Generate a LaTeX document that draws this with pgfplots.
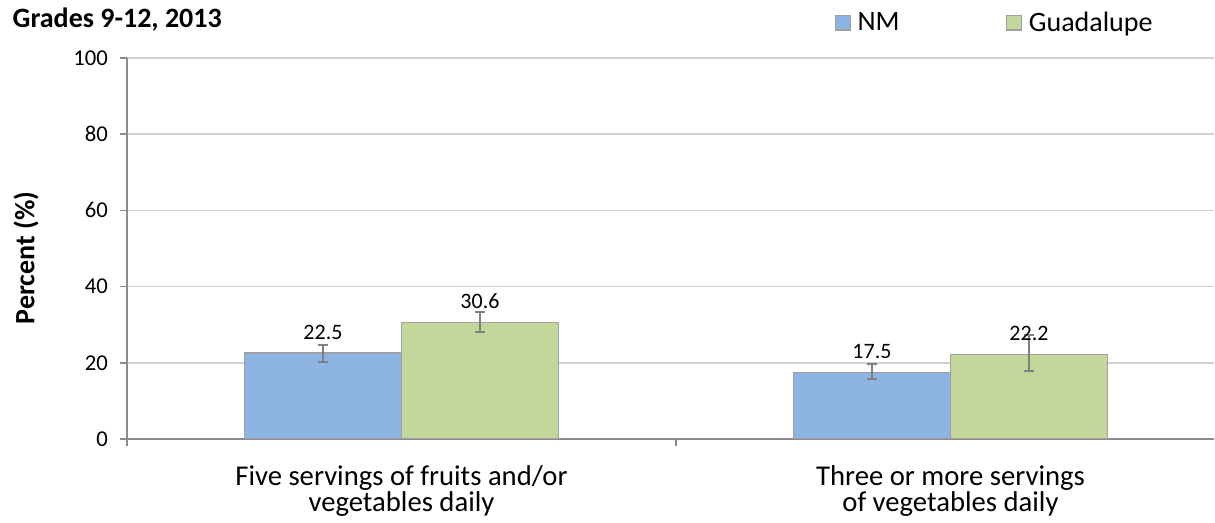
\documentclass[border=0pt]{standalone}
\usepackage{pgfplots}
\pgfplotsset{compat=1.18}
\usepackage{fontspec}
\setmainfont{Carlito}

\definecolor{nmblue}{HTML}{8DB4E2}
\definecolor{guadgreen}{HTML}{C4D79B}
\definecolor{edgegray}{HTML}{A0A0A0}
\definecolor{errgray}{HTML}{808080}
\definecolor{gridgray}{HTML}{D0D0D0}
\definecolor{axisgray}{HTML}{8C8C8C}

\newcommand{\smallsize}{\fontsize{16.5}{19.8}\selectfont}
\newcommand{\ticksize}{\fontsize{17}{20}\selectfont}
\newcommand{\bigsize}{\fontsize{21}{26.5}\selectfont}

\begin{document}
\begin{tikzpicture}
\begin{axis}[
  scale only axis,
  width=815.25pt, height=285.75pt,
  ybar=0pt, bar width=0.286,
  xmin=-0.5, xmax=1.48,
  ymin=0, ymax=100,
  ytick={0,20,...,100},
  xtick={0,1},
  xticklabels={{Five servings of fruits and/or\\vegetables daily},{Three or more servings\\of vegetables daily}},
  axis x line*=bottom, axis y line*=left,
  axis line style={axisgray, line width=1.2pt},
  tick align=outside,
  major tick length=5.25pt,
  tick style={axisgray, line width=1.2pt},
  xtick style={draw=none},
  extra x ticks={-0.5,0.5},
  extra x tick labels={},
  extra x tick style={grid=none, xtick style={draw=axisgray}},
  ymajorgrids,
  grid style={gridgray, line width=1.2pt},
  /pgf/number format/assume math mode=true,
  yticklabel style={font=\ticksize, xshift=-5.5pt},
  xticklabel style={font=\fontsize{21.5}{20}\selectfont, align=center, yshift=-11pt},
  ylabel={Percent (\%)},
  ylabel style={font=\bigsize\bfseries, at={(axis description cs:-0.0929,0.475)}, anchor=center},
  nodes near coords,
  nodes near coords style={font=\smallsize, text=black, anchor=south, yshift=6.5pt,
    /pgf/number format/.cd, fixed, fixed zerofill, precision=1, assume math mode=true},
  legend columns=2,
  legend style={at={(0.651,1.093)}, anchor=west, draw=none, fill=none, font=\bigsize,
    inner sep=0pt, /tikz/every even column/.append style={column sep=78pt}},
  legend image code/.code={\draw[#1, line width=0.8pt] (0pt,-5.6pt) rectangle (11.25pt,5.6pt);
    \path (14pt,0pt);},
]
\addplot[fill=nmblue, draw=edgegray, line width=1.2pt,
  error bars/.cd, y dir=both, y explicit,
  error bar style={errgray, line width=1.5pt},
  error mark options={errgray, line width=1.5pt, mark size=4pt, rotate=90}]
  coordinates {(0,22.5) += (0,2.3) -= (0,2.2) (1,17.5) += (0,2.1) -= (0,1.8)};
\addplot[fill=guadgreen, draw=edgegray, line width=1.2pt,
  error bars/.cd, y dir=both, y explicit,
  error bar style={errgray, line width=1.5pt},
  error mark options={errgray, line width=1.5pt, mark size=4pt, rotate=90}]
  coordinates {(0,30.6) += (0,2.8) -= (0,2.6) (1,22.2) += (0,5.1) -= (0,4.4)};
\legend{NM, Guadalupe}
\end{axis}
\node[anchor=base west, font=\bigsize\bfseries] at (-89.25pt,308.5pt) {Grades 9-12, 2013};
\pgfresetboundingbox
\path[use as bounding box] (-95.25pt,-63pt) rectangle (816pt,329.25pt);
\end{tikzpicture}
\end{document}
